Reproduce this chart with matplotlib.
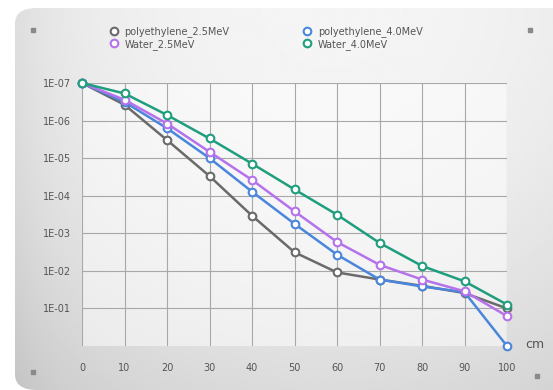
import matplotlib.pyplot as plt
import numpy as np
from matplotlib.patches import FancyBboxPatch
from matplotlib.ticker import FixedLocator, NullLocator

depth_cm = [0, 10, 20, 30, 40, 50, 60, 70, 80, 90, 100]
series_names = ["polyethylene_2.5MeV", "polyethylene_4.0MeV", "Water_2.5MeV", "Water_4.0MeV"]
poly_25 = [1e-7, 3.8e-7, 3.3e-6, 3.0e-5, 3.4e-4, 3.2e-3, 1.1e-2, 1.7e-2, 2.5e-2, 3.9e-2, 1.0e-1]
poly_40 = [1e-7, 3.2e-7, 1.6e-6, 1.0e-5, 7.8e-5, 5.6e-4, 3.7e-3, 1.7e-2, 2.6e-2, 3.7e-2, 1.0]
water_25 = [1e-7, 2.8e-7, 1.2e-6, 6.8e-6, 3.8e-5, 2.6e-4, 1.7e-3, 6.9e-3, 1.7e-2, 3.5e-2, 1.6e-1]
water_40 = [1e-7, 1.9e-7, 7.1e-7, 3.0e-6, 1.4e-5, 6.8e-5, 3.2e-4, 1.8e-3, 7.4e-3, 1.9e-2, 7.9e-2]
y_ticks = [1e-7, 1e-6, 1e-5, 1e-4, 1e-3, 1e-2, 1e-1]
y_labels = ["1E-07", "1E-06", "1E-05", "1E-04", "1E-03", "1E-02", "1E-01"]
colors = ["#6a6a6a", "#4a86dc", "#b572ea", "#1f9e7e"]

fig = plt.figure(figsize=(5.53, 3.90), dpi=100)

# card background with soft gradient
bg = fig.add_axes([0, 0, 1, 1])
bg.set_xlim(0, 1)
bg.set_ylim(0, 1)
bg.axis("off")
xx, yy = np.meshgrid(np.linspace(0, 1, 300), np.linspace(0, 1, 200))
shade = 0.96 - 0.18 * (xx - 0.6) ** 2 - 0.10 * (1 - yy) ** 2 - 0.05 * np.exp(-xx / 0.06)
im = bg.imshow(shade, cmap="gray", vmin=0, vmax=1, extent=[0, 1, 0, 1],
               origin="lower", aspect="auto")
card = FancyBboxPatch((15 / 553, 0), 1.2, 1 - 8 / 390,
                      boxstyle="round,pad=0,rounding_size=0.04",
                      transform=bg.transAxes, facecolor="none", edgecolor="none")
bg.add_patch(card)
im.set_clip_path(card)
for px, py in [(33, 30), (530, 30), (33, 372), (537, 376)]:
    bg.plot(px / 553, 1 - py / 390, "s", color="#8a8a8a", ms=3)

ax = fig.add_axes([82 / 553, 1 - 346 / 390, 425 / 553, 263 / 390])
ax.set_facecolor((1, 1, 1, 0.5))
for name, vals, c in zip(series_names, [poly_25, poly_40, water_25, water_40], colors):
    ax.plot(depth_cm, vals, "-o", color=c, lw=1.8, ms=5.5, mfc="white",
            mec=c, mew=1.5, label=name, clip_on=False, zorder=3)

ax.set_yscale("log")
ax.set_ylim(1.0, 1e-7)
ax.set_xlim(0, 100)
ax.yaxis.set_major_locator(FixedLocator(y_ticks))
ax.yaxis.set_minor_locator(NullLocator())
ax.set_yticks(y_ticks, y_labels)
ax.set_xticks(depth_cm)
ax.grid(True, color="#a8a8a8", lw=0.8)
ax.tick_params(length=0, labelsize=7, colors="#555555", pad=8)
ax.tick_params(axis="x", pad=12)
for s in ax.spines.values():
    s.set_visible(False)

fig.text(525 / 553, 1 - 345 / 390, "cm", fontsize=9, color="#555555", va="center")

h, l = ax.get_legend_handles_labels()
order = [0, 2, 1, 3]
fig.legend([h[i] for i in order], [l[i] for i in order], ncol=2,
           loc="center left", bbox_to_anchor=(100 / 553, 1 - 38 / 390),
           frameon=False, fontsize=7, labelcolor="#555555",
           handlelength=1.0, handletextpad=0.6, columnspacing=7.5,
           labelspacing=0.15)
for ln in fig.legends[0].get_lines():
    ln.set_linestyle("none")

fig.savefig("out.png", dpi=100)
